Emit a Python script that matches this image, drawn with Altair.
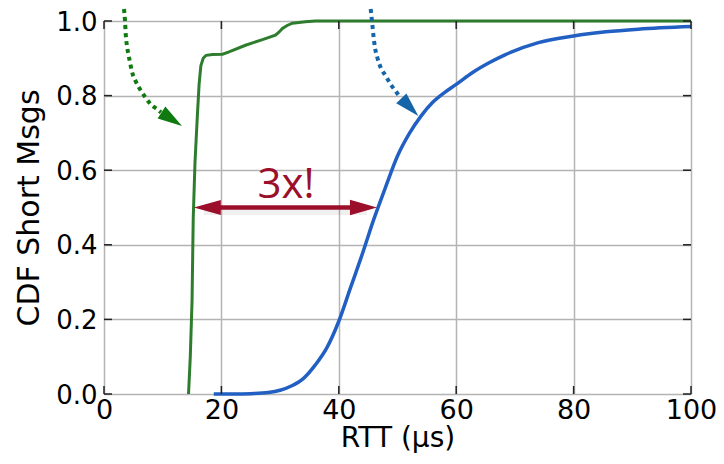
import altair as alt
import pandas as pd

# ---- data ----
green_x = [14.4, 14.7, 15.0, 15.2, 15.5, 15.9, 16.2, 16.5, 16.9, 17.4, 18.5, 20.2, 21.3,
           24.1, 27.0, 29.2, 29.8, 30.4, 31.2, 32.1, 34.3, 36.0, 100.0]
green_y = [0.0, 0.10, 0.25, 0.47, 0.62, 0.745, 0.83, 0.88, 0.90, 0.908, 0.910, 0.911, 0.917,
           0.935, 0.950, 0.962, 0.970, 0.980, 0.988, 0.994, 0.998, 1.0, 1.0]

blue_x = [18.7, 22, 25, 28, 30, 32, 34, 36, 38, 40, 42, 44, 46, 48, 50, 52, 54, 56, 58,
          60, 62.8, 65.6, 68.4, 74, 80, 85.5, 91, 100]
blue_y = [0.0, 0.0, 0.001, 0.004, 0.01, 0.022, 0.042, 0.078, 0.125, 0.195, 0.285, 0.375,
          0.47, 0.556, 0.638, 0.698, 0.745, 0.782, 0.808, 0.830, 0.862, 0.888, 0.910,
          0.942, 0.960, 0.971, 0.978, 0.985]

x_ticks = [0, 20, 40, 60, 80, 100]
y_ticks = [0.0, 0.2, 0.4, 0.6, 0.8, 1.0]

# annotation curves (dotted arrows) and the 3x arrow
garrow_x = [3.41, 3.58, 3.70, 3.97, 4.38, 4.82, 5.50, 6.25, 7.10, 7.96, 9.08, 9.71]
garrow_y = [1.032, 1.000, 0.965, 0.928, 0.893, 0.861, 0.835, 0.814, 0.794, 0.777, 0.763, 0.755]
barrow_x = [45.43, 45.71, 45.88, 46.17, 46.56, 47.14, 47.99, 48.84, 49.69, 50.43]
barrow_y = [1.032, 0.991, 0.964, 0.928, 0.902, 0.875, 0.853, 0.830, 0.812, 0.796]
ghead = [11.54, 0.7366]
bhead = [52.1, 0.769]
span_x = [15.3, 46.5]
span_y = [0.5, 0.5]
label_text = ["3x!"]
label_pos = [31.0, 0.525]

W, H = 587, 373
RED = "#9c0f2b"

xs = alt.Scale(domain=[0, 100], nice=False, zero=False)
ys = alt.Scale(domain=[0, 1], nice=False, zero=False)
xaxis = alt.Axis(values=x_ticks, grid=True, ticks=False, domain=False, title="RTT (μs)",
                 labelFontSize=27, labelPadding=3, titleFontSize=28, titlePadding=1,
                 labelFont="DejaVu Sans", titleFont="DejaVu Sans", titleFontWeight="normal",
                 labelColor="black", titleColor="black", gridColor="#b4b4b4", gridWidth=1.5,
                 labelFlush=False)
yaxis = alt.Axis(values=y_ticks, grid=True, ticks=False, domain=False, title="CDF Short Msgs",
                 format=".1f", labelFontSize=26, labelPadding=7, labelOffset=1,
                 titleFontSize=30, titlePadding=11, labelFont="DejaVu Sans",
                 titleFont="DejaVu Sans", titleFontWeight="normal", labelColor="black",
                 titleColor="black", gridColor="#b4b4b4", gridWidth=1.5, labelFlush=False)


def X(f="x"):
    return alt.X(f"{f}:Q", scale=xs, axis=xaxis)


def Y(f="y"):
    return alt.Y(f"{f}:Q", scale=ys, axis=yaxis)


def df(xv, yv):
    return pd.DataFrame({"x": xv, "y": yv, "i": list(range(len(xv)))})


green = alt.Chart(df(green_x, green_y)).mark_line(color="#2e7d2e", strokeWidth=3).encode(
    x=X(), y=Y(), order="i:Q")
blue = alt.Chart(df(blue_x, blue_y)).mark_line(
    color="#2160c2", strokeWidth=3.5, interpolate="monotone").encode(x=X(), y=Y(), order="i:Q")

xt = pd.DataFrame({"x": x_ticks})
yt = pd.DataFrame({"y": y_ticks})
tick_style = dict(color="#222", strokeWidth=1.5)
top_ticks = alt.Chart(xt).mark_rule(**tick_style).encode(x=X(), y=alt.value(0), y2=alt.value(8))
bot_ticks = alt.Chart(xt).mark_rule(**tick_style).encode(x=X(), y=alt.value(H - 8), y2=alt.value(H))
left_ticks = alt.Chart(yt).mark_rule(**tick_style).encode(y=Y(), x=alt.value(0), x2=alt.value(8))
right_ticks = alt.Chart(yt).mark_rule(**tick_style).encode(y=Y(), x=alt.value(W - 8), x2=alt.value(W))

gdots = alt.Chart(df(garrow_x, garrow_y)).mark_line(
    color="#0f7a10", strokeWidth=4, strokeDash=[4, 4], strokeCap="butt",
    interpolate="monotone").encode(x=X(), y=Y(), order="i:Q")
bdots = alt.Chart(df(barrow_x, barrow_y)).mark_line(
    color="#1565a8", strokeWidth=4, strokeDash=[4, 4], strokeCap="butt",
    interpolate="monotone").encode(x=X(), y=Y(), order="i:Q")

head_right = "M 1 0 L -1 -0.58 L -1 0.58 Z"
head_left = "M -1 0 L 1 -0.55 L 1 0.55 Z"
gh = alt.Chart(df([ghead[0]], [ghead[1]])).mark_point(
    shape=head_right, filled=True, size=600, angle=33, color="#0f7a10", opacity=1,
    strokeWidth=0).encode(x=X(), y=Y())
bh = alt.Chart(df([bhead[0]], [bhead[1]])).mark_point(
    shape=head_right, filled=True, size=600, angle=46, color="#1565a8", opacity=1,
    strokeWidth=0).encode(x=X(), y=Y())

span_line = pd.DataFrame({"x": [span_x[0]], "x2": [span_x[1]], "y": [span_y[0]]})
shadow = alt.Chart(span_line).mark_rule(
    color="#000", opacity=0.06, strokeWidth=7, xOffset=10, x2Offset=-10, yOffset=4).encode(
    x=X(), x2="x2:Q", y=Y())
shaft = alt.Chart(span_line).mark_rule(
    color=RED, strokeWidth=4.5, xOffset=14, x2Offset=-14).encode(x=X(), x2="x2:Q", y=Y())
lhead = alt.Chart(df([span_x[0]], [span_y[0]])).mark_point(
    shape=head_left, filled=True, size=729, xOffset=13.5, color=RED, opacity=1,
    strokeWidth=0).encode(x=X(), y=Y())
rhead = alt.Chart(df([span_x[1]], [span_y[1]])).mark_point(
    shape=head_right, filled=True, size=729, xOffset=-13.5, color=RED, opacity=1,
    strokeWidth=0).encode(x=X(), y=Y())
label = alt.Chart(pd.DataFrame({"x": [label_pos[0]], "y": [label_pos[1]], "t": label_text})).mark_text(
    font="Open Sans", fontSize=42, color=RED, align="center", baseline="alphabetic").encode(
    x=X(), y=Y(), text="t:N")

chart = alt.layer(
    green, blue, top_ticks, bot_ticks, left_ticks, right_ticks,
    gdots, bdots, gh, bh, shadow, shaft, lhead, rhead, label
).properties(
    width=W, height=H,
    padding={"left": 96, "top": 13, "right": 25, "bottom": 62},
    autosize=alt.AutoSizeParams(type="none"),
).configure_view(stroke="#1a1a1a", strokeWidth=2.5).configure(background="white")

chart.save("out.html", embed_options={"renderer": "svg", "actions": False})
